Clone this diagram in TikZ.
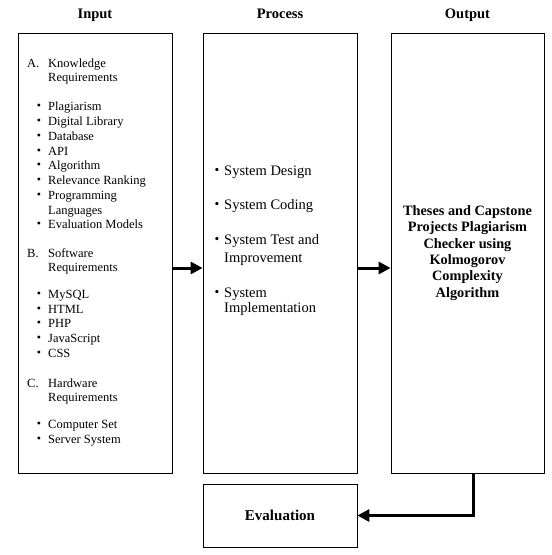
\documentclass[tikz,border=0pt]{standalone}
\usepackage{fontspec}
\setmainfont{Liberation Serif}
\usetikzlibrary{arrows.meta}
\begin{document}
\begin{tikzpicture}[x=1pt,y=-1pt,
  box/.style={draw, line width=0.8pt, minimum width=154pt, minimum height=440pt, inner sep=0pt},
  hdr/.style={anchor=base, inner sep=0pt, font=\fontsize{14.5}{17}\selectfont\bfseries},
  itm/.style={anchor=base west, inner sep=0pt, font=\fontsize{12.5}{14.5}\selectfont},
  bul/.style={anchor=base, inner sep=0pt, font=\fontsize{12}{14.5}\selectfont},
  pitm/.style={anchor=base west, inner sep=0pt, font=\fontsize{14.5}{17}\selectfont},
  pbul/.style={anchor=base, inner sep=0pt, font=\fontsize{13.5}{17}\selectfont},
  arr/.style={line width=3pt, -{Triangle[length=12pt,width=12pt]}}]
\useasboundingbox (0,0) rectangle (552,555);
% headers
\node[hdr] (hin) at (95,18) {Input};
\node[hdr] (hpr) at (280,18) {Process};
\node[hdr] (hout) at (467.5,18) {Output};
% boxes
\node[box] (inp) at (95,253) {};
\node[box] (proc) at (280,253) {};
\node[box, minimum width=153pt, align=center, font=\fontsize{14.3}{16.4}\selectfont\bfseries] (out) at (467.5,253)
  {Theses and Capstone\\Projects Plagiarism\\Checker using\\Kolmogorov\\Complexity\\Algorithm};
\node[box, minimum height=63pt, font=\fontsize{15}{17}\selectfont\bfseries] (ev) at (280,515.5) {Evaluation};
% input headings
\node[itm] (la) at (27,67) {A.};
\node[itm] (ta1) at (48,67) {Knowledge};
\node[itm] (ta2) at (48,81) {Requirements};
\node[itm] (lb) at (27,257) {B.};
\node[itm] (tb1) at (48,257) {Software};
\node[itm] (tb2) at (48,271) {Requirements};
\node[itm] (lc) at (27,387) {C.};
\node[itm] (tc1) at (48,387) {Hardware};
\node[itm] (tc2) at (48,401) {Requirements};
% input bullets
\foreach \y/\t [count=\i] in {106/Plagiarism, 121/Digital Library, 136/Database, 151/API,
  165/Algorithm, 180/Relevance Ranking, 195/Programming, 224/Evaluation Models,
  294/MySQL, 309/HTML, 323/PHP, 338/JavaScript, 353/CSS, 424/Computer Set, 439/Server System}
{
  \node[bul] (ib\i) at (39,\y+3.5) {\textbullet};
  \node[itm] (it\i) at (48,\y+4) {\t};
}
\node[itm] (itlang) at (48,214) {Languages};
% process items
\foreach \y/\t [count=\i] in {170/System Design, 204/System Coding, 239/System Test and, 292/System}
{
  \node[pbul] (pb\i) at (217,\y+4.5) {\textbullet};
  \node[pitm] (pt\i) at (224,\y+5) {\t};
}
\node[pitm] (pimp) at (224,262) {Improvement};
\node[pitm] (pimpl) at (224,312) {Implementation};
% arrows
\coordinate (ay) at (0,268);
\draw[arr] (inp.east |- ay) -- (proc.west |- ay);
\draw[arr] (proc.east |- ay) -- (out.west |- ay);
\coordinate (dx) at (473,0);
\draw[arr] (out.south -| dx) |- (ev.east);
\end{tikzpicture}
\end{document}
